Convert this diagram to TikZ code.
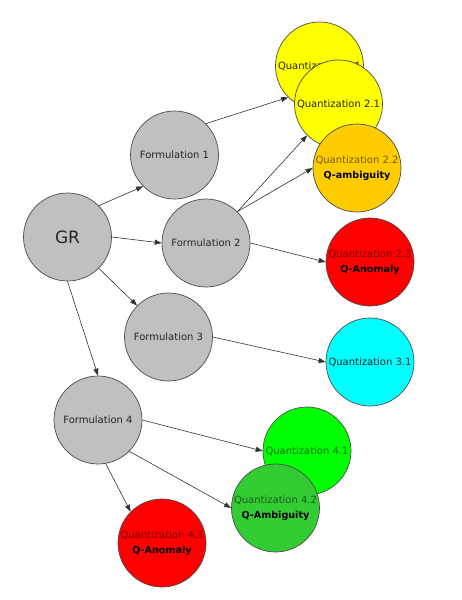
\documentclass[tikz,border=0pt]{standalone}
\usepackage{fontspec}
\setmainfont{DejaVu Sans}
\usetikzlibrary{arrows.meta}
\definecolor{qyellow}{HTML}{FFFF00}
\definecolor{amber}{HTML}{FFCC00}
\definecolor{qred}{HTML}{FF0000}
\definecolor{qcyan}{HTML}{00FFFF}
\definecolor{qgreen}{HTML}{00FF00}
\definecolor{leaf}{HTML}{33CC33}
\definecolor{frmgray}{HTML}{C0C0C0}
\newcommand{\qtag}[1]{{\color{black}\fontsize{9.6}{15}\selectfont\bfseries #1}}

\begin{document}
\begin{tikzpicture}[
  x=1pt, y=-1pt,
  font=\fontsize{10}{15}\selectfont,
  >={Triangle[length=7pt,width=5pt]},
  blob/.style={circle, draw=black!70, line width=0.7pt, minimum size=88pt,
               inner sep=0pt, align=center},
  frm/.style={blob, fill=frmgray, text=black!85},
  qnt/.style={blob, fill=#1, text=#1!45!black},
  link/.style={->, black!80, line width=0.6pt},
]
\useasboundingbox (0,0) rectangle (461,600);

% root and formulations
\node[frm, font=\fontsize{17}{20}\selectfont] (GR) at (67.5,237) {GR};
\node[frm] (F1) at (174.5,155) {Formulation 1};
\node[frm] (F2) at (206,243) {Formulation 2};
\node[frm] (F3) at (168.5,337) {Formulation 3};
\node[frm] (F4) at (98,420) {Formulation 4};

% quantizations
\node[qnt=qyellow, text=black!85] (Q11) at (319.5,66) {Quantization 1.1};
\node[qnt=qyellow, text=black!85] (Q21) at (338.5,104) {Quantization 2.1};
\node[qnt=amber] (Q22) at (357,168) {Quantization 2.2\\\qtag{Q-ambiguity}};
\node[qnt=qred] (Q23) at (370,262) {Quantization 2.3\\\qtag{Q-Anomaly}};
\node[qnt=qcyan, text=black!85] (Q31) at (370,362) {Quantization 3.1};
\node[qnt=qgreen] (Q41) at (307,451) {Quantization 4.1};
\node[qnt=leaf] (Q42) at (275.5,508) {Quantization 4.2\\\qtag{Q-Ambiguity}};
\node[qnt=qred] (Q43) at (162,543) {Quantization 4.3\\\qtag{Q-Anomaly}};

\draw[link] (GR.45) -- (F1.225);
\draw[link] (GR.0) -- (F2.180);
\draw[link] (GR.315) -- (F3.135);
\draw[link] (GR.270) -- (F4.90);

\draw[link] (F1.45) -- (Q11.225);
\draw[link] (F2.45) -- (Q21.225);
\draw[link] (F2.45) -- (Q22.180);
\draw[link] (F2.0) -- (Q23.180);
\draw[link] (F3.0) -- (Q31.180);
\draw[link] (F4.0) -- (Q41.180);
\draw[link] (F4.315) -- (Q42.180);
\draw[link] (F4.280) -- (Q43.135);

\end{tikzpicture}
\end{document}
